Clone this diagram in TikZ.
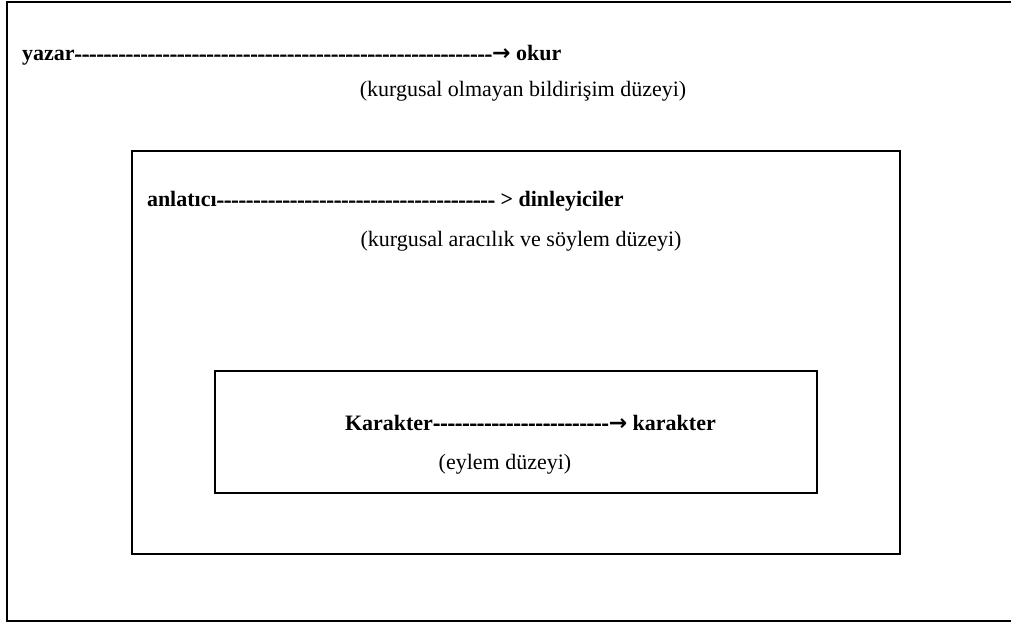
\documentclass[tikz,border=0pt]{standalone}
\usepackage{fontspec}
\setmainfont{Liberation Serif}
\newfontfamily\arrowfont{DejaVu Sans}
\newfontfamily\hyfont{Liberation Serif}[UprightFont=*-Bold, FakeBold=1.5]
\newcount\hycnt
\newcommand\hyrun[1]{{\hyfont\hycnt=#1\relax\loop{-}\advance\hycnt by -1\relax\ifnum\hycnt>0\repeat}}
\newcommand\rarr{{\arrowfont\bfseries →}}
\tikzset{
  frame/.style={draw=black, line width=1.5pt},
  lbl/.style={inner sep=0pt, outer sep=0pt, font=\fontsize{16.5}{19}\selectfont},
}
\begin{document}
\begin{tikzpicture}[x=0.75pt, y=-0.75pt]
\useasboundingbox (0,0) rectangle (1011,624);
\begin{scope}
\clip (0,0) rectangle (1011,624);
\draw[frame] (7,2) rectangle (1030,621);
\end{scope}
\draw[frame] (132,151) rectangle (900,554);
\draw[frame] (215,371) rectangle (817,493);

\node[lbl, anchor=base west] (l1) at (22,61) {\textbf{yazar\hyrun{57}}\rarr\ \textbf{okur}};
\node[lbl, anchor=base] (l1b) at (523,97) {(kurgusal olmayan bildirişim düzeyi)};

\node[lbl, anchor=base west] (l2) at (147,207) {\textbf{anlatıcı\hyrun{38} > dinleyiciler}};
\node[lbl, anchor=base] (l2b) at (521,247) {(kurgusal aracılık ve söylem düzeyi)};

\node[lbl, anchor=base west] (l3) at (345,430) {\textbf{Karakter\hyrun{24}}\rarr\ \textbf{karakter}};
\node[lbl, anchor=base] (l3b) at (505,469) {(eylem düzeyi)};
\end{tikzpicture}
\end{document}
